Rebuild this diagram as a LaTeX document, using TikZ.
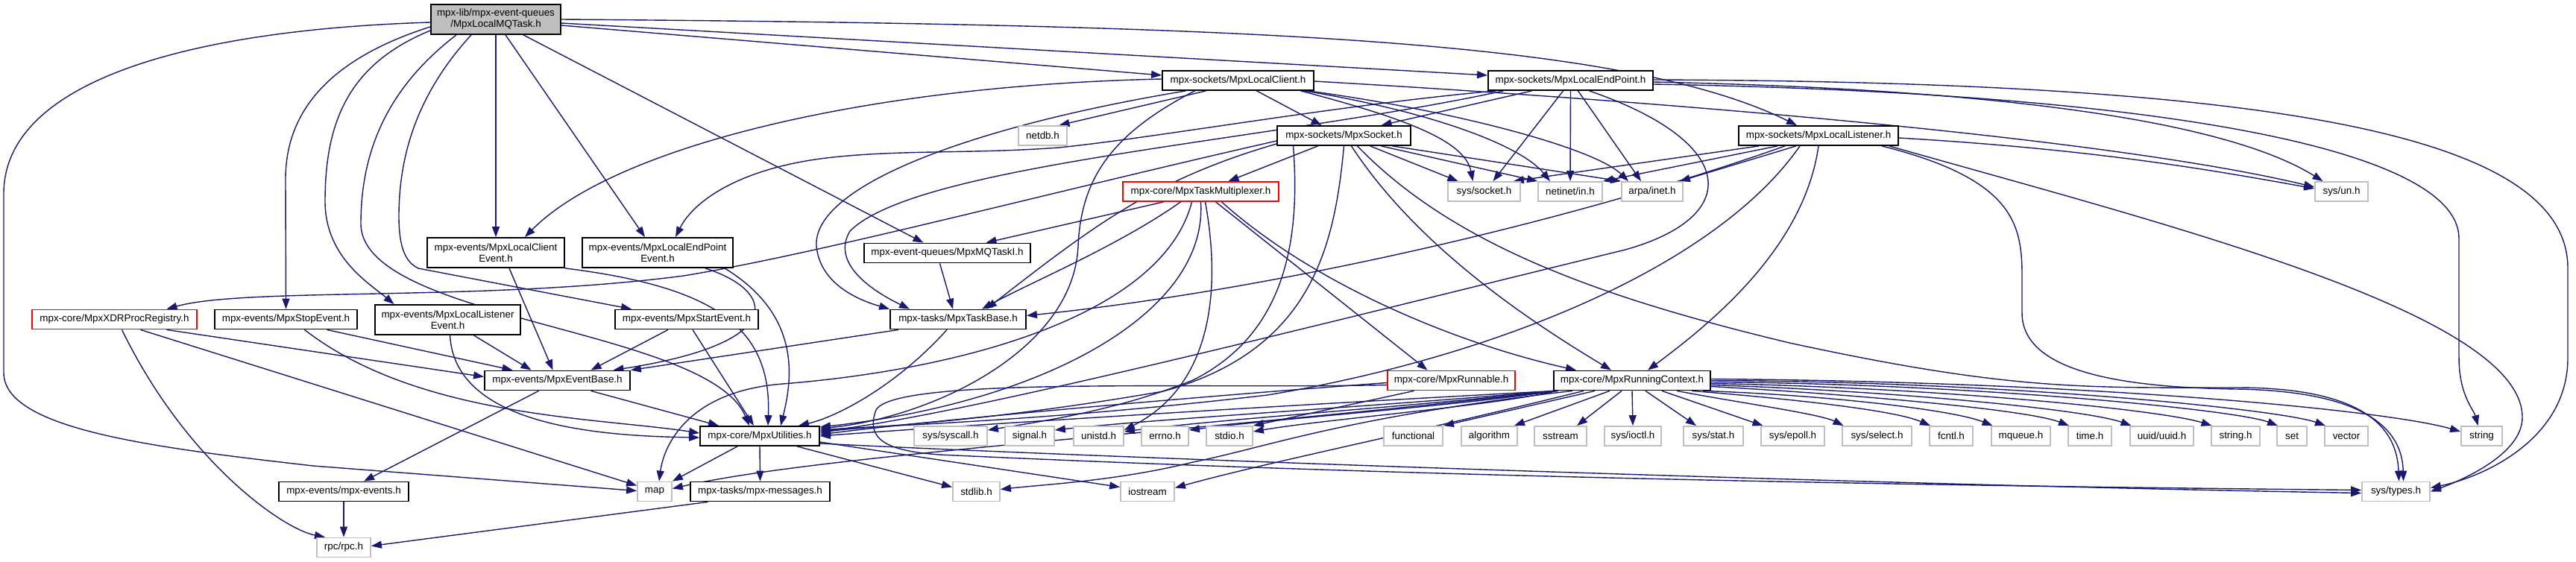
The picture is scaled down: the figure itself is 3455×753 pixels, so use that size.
\documentclass[tikz,border=0pt]{standalone}
\usepackage{fontspec}
\setmainfont{Liberation Sans}
\usetikzlibrary{arrows.meta}
\pgfdeclarelayer{back}
\pgfdeclarelayer{bg}
\pgfsetlayers{back,bg,main}
\definecolor{edgec}{HTML}{191970}
\definecolor{grayb}{HTML}{BFBFBF}
\begin{document}
\begin{tikzpicture}[x=1pt,y=-1pt,
  nb/.style={draw=black,line width=1.8pt,fill=white,inner sep=0pt,minimum height=26pt,font=\fontsize{13.4}{15}\selectfont,align=center},
  sb/.style={nb,draw=grayb},
  rb/.style={nb,draw=red},
  dep/.style={draw=edgec,line width=1.4pt,-{Triangle[length=14pt,width=10pt]}}]
\begin{pgfonlayer}{back}
\fill[white] (0,0) rectangle (3455,753);
\end{pgfonlayer}
\useasboundingbox (0,0) rectangle (3455,753);
% nodes
\node[nb,fill=grayb,minimum width=174pt,minimum height=40pt] (root) at (665,26) {mpx-lib/mpx-event-queues\\/MpxLocalMQTask.h};
\node[nb,minimum width=203pt] (lclient) at (1660.5,108) {mpx-sockets/MpxLocalClient.h};
\node[nb,minimum width=221pt] (lendpoint) at (2106.5,108) {mpx-sockets/MpxLocalEndPoint.h};
\node[sb,minimum width=65pt] (netdb) at (1398.5,182) {netdb.h};
\node[nb,minimum width=179pt] (socket) at (1802.5,182) {mpx-sockets/MpxSocket.h};
\node[nb,minimum width=214pt] (llistener) at (2439,182) {mpx-sockets/MpxLocalListener.h};
\node[rb,minimum width=209pt] (taskmux) at (1610.5,257) {mpx-core/MpxTaskMultiplexer.h};
\node[sb,minimum width=97pt] (syssocket) at (1990.5,257) {sys/socket.h};
\node[sb,minimum width=86pt] (netinet) at (2106,257) {netinet/in.h};
\node[sb,minimum width=82pt] (arpainet) at (2216,257) {arpa/inet.h};
\node[sb,minimum width=71pt] (sysun) at (3140.5,257) {sys/un.h};
\node[nb,minimum width=184pt,minimum height=40pt] (lcevent) at (665,339) {mpx-events/MpxLocalClient\\Event.h};
\node[nb,minimum width=202pt,minimum height=40pt] (lepevent) at (882,339) {mpx-events/MpxLocalEndPoint\\Event.h};
\node[nb,minimum width=223pt] (mqtaski) at (1270.5,339.5) {mpx-event-queues/MpxMQTaskI.h};
\node[rb,minimum width=221pt] (xdr) at (153.5,428.5) {mpx-core/MpxXDRProcRegistry.h};
\node[nb,minimum width=191pt] (stopev) at (383.5,428.5) {mpx-events/MpxStopEvent.h};
\node[nb,minimum width=195pt,minimum height=40pt] (llevent) at (600.5,429) {mpx-events/MpxLocalListener\\Event.h};
\node[nb,minimum width=192pt] (startev) at (921,428.5) {mpx-events/MpxStartEvent.h};
\node[nb,minimum width=182pt] (taskbase) at (1285,428.5) {mpx-tasks/MpxTaskBase.h};
\node[nb,minimum width=195pt] (eventbase) at (747.5,510.5) {mpx-events/MpxEventBase.h};
\node[rb,minimum width=171pt] (runnable) at (1946.5,510.5) {mpx-core/MpxRunnable.h};
\node[nb,minimum width=210pt] (runctx) at (2189,510.5) {mpx-core/MpxRunningContext.h};
\node[nb,minimum width=160pt] (utilities) at (1019,585) {mpx-core/MpxUtilities.h};
\node[sb,minimum width=98pt] (syscall) at (1275,585) {sys/syscall.h};
\node[sb,minimum width=66pt] (signal) at (1381,585) {signal.h};
\node[sb,minimum width=67pt] (unistd) at (1473.5,585) {unistd.h};
\node[sb,minimum width=63pt] (errno) at (1562.5,585) {errno.h};
\node[sb,minimum width=62pt] (stdio) at (1649,585) {stdio.h};
\node[sb,minimum width=79pt] (functional) at (1895.5,585) {functional};
\node[sb,minimum width=75pt] (algorithm) at (1997.5,585) {algorithm};
\node[sb,minimum width=70pt] (sstream) at (2093,585) {sstream};
\node[sb,minimum width=76pt] (ioctl) at (2190,585) {sys/ioctl.h};
\node[sb,minimum width=80pt] (stat) at (2298,585) {sys/stat.h};
\node[sb,minimum width=85pt] (epoll) at (2404.5,585) {sys/epoll.h};
\node[sb,minimum width=93pt] (select) at (2517.5,585) {sys/select.h};
\node[sb,minimum width=58pt] (fcntl) at (2617,585) {fcntl.h};
\node[sb,minimum width=79pt] (mqueue) at (2710.5,585) {mqueue.h};
\node[sb,minimum width=58pt] (time) at (2803,585) {time.h};
\node[sb,minimum width=85pt] (uuid) at (2899.5,585) {uuid/uuid.h};
\node[sb,minimum width=65pt] (stringh) at (2998.5,585) {string.h};
\node[sb,minimum width=40pt] (set) at (3074,585) {set};
\node[sb,minimum width=58pt] (vector) at (3147,585) {vector};
\node[sb,minimum width=55pt] (string) at (3328.5,585) {string};
\node[nb,minimum width=174pt] (mpxevents) at (461,659.5) {mpx-events/mpx-events.h};
\node[sb,minimum width=46pt] (map) at (878,659.5) {map};
\node[nb,minimum width=187pt] (messages) at (1019.5,659.5) {mpx-tasks/mpx-messages.h};
\node[sb,minimum width=63pt] (stdlib) at (1309.5,659.5) {stdlib.h};
\node[sb,minimum width=72pt] (iostream) at (1539,659.5) {iostream};
\node[sb,minimum width=91pt] (systypes) at (3213.5,659.5) {sys/types.h};
\node[sb,minimum width=72pt] (rpc) at (461,734.5) {rpc/rpc.h};
\begin{pgfonlayer}{bg}
% root
\draw[dep] ([yshift=-4pt]root.west) .. controls (250,40) and (5,110) .. (5,260) -- (5,500) .. controls (5,575) and (200,600) .. (420,625) -- ([yshift=1pt]map.west);
\draw[dep] ([yshift=-10pt]root.west) .. controls (470,70) and (383,130) .. (383,240) -- (stopev.north);
\draw[dep] ([yshift=-15pt]root.west) .. controls (470,85) and (436,160) .. (436,270) .. controls (436,345) and (495,380) .. ([xshift=-72pt]llevent.north);
\draw[dep] ([xshift=-53pt]root.south) .. controls (530,110) and (484,190) .. (484,300) .. controls (484,430) and (950,440) .. ([xshift=-14pt]utilities.north);
\draw[dep] ([xshift=-33pt]root.south) .. controls (565,120) and (535,200) .. (535,290) .. controls (535,335) and (545,352) .. (561,360) -- ([xshift=-74pt]startev.north);
\draw[dep] (root.south) -- (lcevent.north);
\draw[dep] ([xshift=13pt]root.south) -- ([xshift=-17pt]lepevent.north);
\draw[dep] ([xshift=37pt]root.south) -- ([xshift=-32pt]mqtaski.north);
\draw[dep] ([yshift=-8pt]root.east) -- ([yshift=7pt]lclient.west);
\draw[dep] ([yshift=-5pt]root.east) -- ([yshift=7pt]lendpoint.west);
\draw[dep] (root.east) .. controls (1700,33) and (2180,55) .. ([xshift=-29pt]llistener.north);
% MpxLocalClient
\draw[dep] ([xshift=-43pt]lclient.south) -- ([xshift=22pt]netdb.north);
\draw[dep] ([xshift=25pt]lclient.south) -- ([xshift=-30pt]socket.north);
\draw[dep] ([xshift=84pt]lclient.south) .. controls (1890,160) and (1965,190) .. ([xshift=-15pt]syssocket.north);
\draw[dep] ([xshift=89pt]lclient.south) .. controls (1920,150) and (2040,195) .. ([xshift=-27pt]netinet.north);
\draw[dep] ([xshift=94pt]lclient.south) .. controls (1960,150) and (2140,200) .. ([xshift=-32pt]arpainet.north);
\draw[dep] ([yshift=-1pt]lclient.east) .. controls (2300,140) and (2850,190) .. ([yshift=6pt]sysun.west);
\draw[dep] ([yshift=2pt]lclient.west) .. controls (1150,115) and (820,200) .. ([xshift=39pt]lcevent.north);
\draw[dep] ([xshift=-70pt]lclient.south) .. controls (1300,170) and (1090,250) .. (1095,330) .. controls (1100,385) and (1160,405) .. (taskbase.north west);
\draw[dep] ([xshift=-58pt]lclient.south) .. controls (1490,180) and (1450,240) .. (1446,330) .. controls (1440,470) and (1250,560) .. ([yshift=10pt]utilities.east);
% MpxLocalEndPoint
\draw[dep] ([xshift=-52pt]lendpoint.south) -- ([xshift=50pt]socket.north);
\draw[dep] ([xshift=-10pt]lendpoint.south) -- ([xshift=12pt]syssocket.north);
\draw[dep] (lendpoint.south) -- (netinet.north);
\draw[dep] ([xshift=10pt]lendpoint.south) -- ([xshift=-15pt]arpainet.north);
\draw[dep] ([xshift=-100pt]lendpoint.south) .. controls (1800,140) and (1550,185) .. (1420,198) .. controls (1300,207) and (1200,200) .. (1100,213) .. controls (990,228) and (930,270) .. ([xshift=24pt]lepevent.north);
\draw[dep] ([xshift=-90pt]lendpoint.south) .. controls (1700,190) and (1230,220) .. (1140,310) .. controls (1110,360) and (1190,400) .. ([xshift=-65pt]taskbase.north);
\draw[dep] ([xshift=25pt]lendpoint.south) .. controls (2330,190) and (2340,290) .. (2180,335) .. controls (1750,440) and (1300,555) .. ([yshift=6pt]utilities.east);
\draw[dep] ([yshift=-2pt]lendpoint.east) .. controls (2700,120) and (2990,165) .. ([xshift=-25pt]sysun.north);
\draw[dep] ([yshift=-5pt]lendpoint.east) .. controls (2900,125) and (3298,200) .. (3298,320) -- (3298,480) .. controls (3298,530) and (3318,550) .. ([xshift=-5pt]string.north);
\draw[dep] ([yshift=1pt]lendpoint.east) .. controls (3050,110) and (3444,180) .. (3444,360) -- (3444,480) .. controls (3444,590) and (3330,640) .. ([yshift=5pt]systypes.east);
% MpxSocket
\draw[dep] ([xshift=-35pt]socket.south) -- ([xshift=37pt]taskmux.north);
\draw[dep] ([xshift=35pt]socket.south) -- ([xshift=-35pt]syssocket.north);
\draw[dep] ([xshift=50pt]socket.south) -- (netinet.north west);
\draw[dep] ([xshift=65pt]socket.south) -- (arpainet.north west);
\draw[dep] ([yshift=-7pt]socket.west) .. controls (1400,260) and (1100,340) .. (917,370) .. controls (650,405) and (330,385) .. ([xshift=70pt]xdr.north);
\draw[dep] ([yshift=-11pt]socket.west) .. controls (1550,240) and (1470,300) .. ([xshift=38pt]taskbase.north);
\draw[dep] ([xshift=-68pt]socket.south) .. controls (1745,330) and (1720,450) .. (1600,510) .. controls (1500,550) and (1400,565) .. ([yshift=8pt]syscall.east);
\draw[dep] (socket.south) .. controls (1790,330) and (1760,470) .. (1560,525) .. controls (1300,570) and (1150,572) .. ([yshift=4pt]utilities.east);
\draw[dep] ([xshift=10pt]socket.south) .. controls (1900,330) and (2050,430) .. ([xshift=-28pt]runctx.north);
\draw[dep] ([xshift=18pt]socket.south) .. controls (1950,330) and (2150,400) .. (2400,460) .. controls (2700,525) and (2800,520) .. (3000,520) .. controls (3180,520) and (3215,580) .. ([xshift=4pt]systypes.north);
% MpxTaskMultiplexer
\draw[dep] ([xshift=-50pt]taskmux.south) -- ([xshift=52pt]mqtaski.north);
\draw[dep] ([xshift=-27pt]taskmux.south) .. controls (1500,330) and (1380,380) .. ([xshift=32pt]taskbase.north);
\draw[dep] ([xshift=-12pt]taskmux.south) .. controls (1560,420) and (1300,495) .. (1050,515) .. controls (920,525) and (890,600) .. ([xshift=6pt]map.north);
\draw[dep] (taskmux.south) .. controls (1620,420) and (1400,540) .. ([yshift=12pt]utilities.east);
\draw[dep] ([xshift=6pt]taskmux.south) .. controls (1640,400) and (1620,520) .. ([yshift=8pt]unistd.east);
\draw[dep] ([xshift=20pt]taskmux.south) -- ([xshift=-32pt]runnable.north);
\draw[dep] ([xshift=28pt]taskmux.south) .. controls (1760,380) and (1950,460) .. ([xshift=-75pt]runctx.north);
% MpxLocalListener
\draw[dep] ([xshift=-80pt]llistener.south) -- ([xshift=-10pt]syssocket.north east);
\draw[dep] ([xshift=-55pt]llistener.south) -- (netinet.north east);
\draw[dep] ([xshift=-30pt]llistener.south) -- ([xshift=-5pt]arpainet.north east);
\draw[dep] ([yshift=-3pt]llistener.east) .. controls (2800,200) and (2950,225) .. ([yshift=4pt]sysun.west);
\draw[dep] ([xshift=-45pt]llistener.south) .. controls (2100,300) and (1700,390) .. ([yshift=5pt]taskbase.east);
\draw[dep] ([xshift=-25pt]llistener.south) .. controls (2300,360) and (2000,480) .. (1700,530) .. controls (1400,565) and (1200,570) .. ([yshift=8pt]utilities.east);
\draw[dep] (llistener.south) .. controls (2420,330) and (2300,430) .. ([xshift=21pt]runctx.north);
\draw[dep] ([xshift=85pt]llistener.south) .. controls (2700,240) and (2712,300) .. (2712,370) -- (2712,420) .. controls (2712,500) and (2850,520) .. (3000,522) .. controls (3180,525) and (3222,580) .. ([xshift=10pt]systypes.north);
\draw[dep] ([xshift=95pt]llistener.south) .. controls (2900,300) and (3383,420) .. (3383,560) .. controls (3383,610) and (3300,645) .. (systypes.east);
% MpxRunnable
\draw[dep] ([yshift=-3pt]runnable.west) .. controls (1500,540) and (1200,570) .. ([yshift=2pt]utilities.east);
\draw[dep] ([xshift=-50pt]runnable.south) -- (stdio.north east);
\draw[dep] ([yshift=-6pt]runnable.west) .. controls (1600,522) and (1200,505) .. (1175,550) .. controls (1160,590) and (1190,605) .. (1260,610) .. controls (1900,640) and (2600,652) .. ([yshift=2pt]systypes.west);
% MpxRunningContext
\draw[dep] ([xshift=3pt]runctx.south west) .. controls (1700,545) and (1300,570) .. (utilities.east);
\draw[dep] ([xshift=1pt]runctx.south west) .. controls (1850,545) and (1550,562) .. ([yshift=8pt]signal.east);
\draw[dep] ([xshift=2pt]runctx.south west) .. controls (1900,545) and (1640,562) .. ([yshift=6pt]unistd.east);
\draw[dep] ([xshift=4pt]runctx.south west) .. controls (1950,545) and (1710,562) .. ([yshift=8pt]errno.east);
\draw[dep] ([xshift=5pt]runctx.south west) .. controls (2000,545) and (1780,562) .. ([yshift=6pt]stdio.east);
\draw[dep] ([xshift=7pt]runctx.south west) .. controls (1600,580) and (1100,610) .. ([yshift=4pt]map.east);
\draw[dep] ([xshift=-80pt]runctx.south) .. controls (1800,560) and (1700,600) .. (1600,620) .. controls (1500,645) and (1400,650) .. ([yshift=3pt]stdlib.east);
\draw[dep] ([xshift=-65pt]runctx.south) .. controls (1900,580) and (1700,620) .. ([yshift=5pt]iostream.east);
\draw[dep] ([xshift=-50pt]runctx.south) -- (functional.north east);
\draw[dep] ([xshift=-30pt]runctx.south) -- ([xshift=-5pt]algorithm.north east);
\draw[dep] ([xshift=-14pt]runctx.south) -- ([xshift=22pt]sstream.north);
\draw[dep] (runctx.south) -- (ioctl.north);
\draw[dep] ([xshift=18pt]runctx.south) -- ([xshift=-23pt]stat.north);
\draw[dep] ([xshift=40pt]runctx.south) -- ([xshift=-40pt]epoll.north);
\draw[dep] ([xshift=60pt]runctx.south) .. controls (2330,540) and (2440,555) .. ([xshift=-45pt]select.north);
\draw[dep] ([xshift=80pt]runctx.south) .. controls (2400,535) and (2540,550) .. ([xshift=-28pt]fcntl.north);
\draw[dep] ([xshift=95pt]runctx.south) .. controls (2450,530) and (2620,550) .. ([xshift=-38pt]mqueue.north);
\draw[dep] ([yshift=-8pt]runctx.east) .. controls (2500,530) and (2720,550) .. ([xshift=-28pt]time.north);
\draw[dep] ([yshift=-6pt]runctx.east) .. controls (2550,525) and (2800,550) .. ([xshift=-41pt]uuid.north);
\draw[dep] ([yshift=-4pt]runctx.east) .. controls (2600,520) and (2900,550) .. ([xshift=-32pt]stringh.north);
\draw[dep] ([yshift=-2pt]runctx.east) .. controls (2650,515) and (3000,550) .. ([xshift=-19pt]set.north);
\draw[dep] (runctx.east) .. controls (2700,512) and (3060,550) .. ([xshift=-28pt]vector.north);
\draw[dep] ([yshift=2pt]runctx.east) .. controls (2800,512) and (3200,550) .. ([yshift=6pt]string.west);
% MpxUtilities
\draw[dep] ([xshift=-30pt]utilities.south) -- (map.north east);
\draw[dep] (utilities.south) -- (messages.north);
\draw[dep] ([xshift=50pt]utilities.south) -- ([yshift=6pt]stdlib.west);
\draw[dep] ([yshift=-8pt]utilities.east) -- ([yshift=6pt]iostream.west);
\draw[dep] ([yshift=-10pt]utilities.east) .. controls (1500,615) and (2500,650) .. ([yshift=-2pt]systypes.west);
% events
\draw[dep] ([xshift=45pt]eventbase.south) -- ([xshift=-55pt]utilities.north);
\draw[dep] ([xshift=-25pt]eventbase.south) -- ([xshift=27pt]mpxevents.north);
\draw[dep] ([xshift=70pt]xdr.south) -- ([yshift=5pt]eventbase.west);
\draw[dep] ([xshift=35pt]xdr.south) -- ([yshift=8pt]map.west);
\draw[dep] ([xshift=10pt]xdr.south) .. controls (250,620) and (380,710) .. ([xshift=-25pt]rpc.north);
\draw[dep] ([xshift=55pt]stopev.south) -- ([xshift=-60pt]eventbase.north);
\draw[dep] ([xshift=25pt]stopev.south) .. controls (560,560) and (800,560) .. ([yshift=4pt]utilities.west);
\draw[dep] ([xshift=35pt]llevent.south) -- ([xshift=-35pt]eventbase.north);
\draw[dep] ([xshift=3pt]llevent.south) .. controls (610,570) and (800,585) .. ([yshift=-2pt]utilities.west);
\draw[dep] ([xshift=18pt]lcevent.south) -- ([xshift=-6pt]eventbase.north);
\draw[dep] (lcevent.south east) .. controls (960,385) and (1035,440) .. ([xshift=11pt]utilities.north);
\draw[dep] ([xshift=64pt]lepevent.south) .. controls (1040,390) and (1060,460) .. ([xshift=75pt]eventbase.north);
\draw[dep] ([xshift=90pt]lepevent.south) .. controls (1070,420) and (1065,500) .. ([xshift=28pt]utilities.north);
\draw[dep] ([xshift=-25pt]startev.south) -- ([xshift=45pt]eventbase.north);
\draw[dep] ([xshift=8pt]startev.south) -- ([xshift=-8pt]utilities.north);
\draw[dep] ([xshift=-80pt]taskbase.south) -- (eventbase.north east);
\draw[dep] ([xshift=-15pt]taskbase.south) .. controls (1200,520) and (1120,560) .. ([xshift=52pt]utilities.north);
\draw[dep] ([xshift=-10pt]mqtaski.south) -- ([xshift=-7pt]taskbase.north);
\draw[dep] (mpxevents.south) -- (rpc.north);
\draw[dep] ([xshift=-70pt]messages.south) -- ([yshift=2pt]rpc.east);
\end{pgfonlayer}
\end{tikzpicture}
\end{document}
